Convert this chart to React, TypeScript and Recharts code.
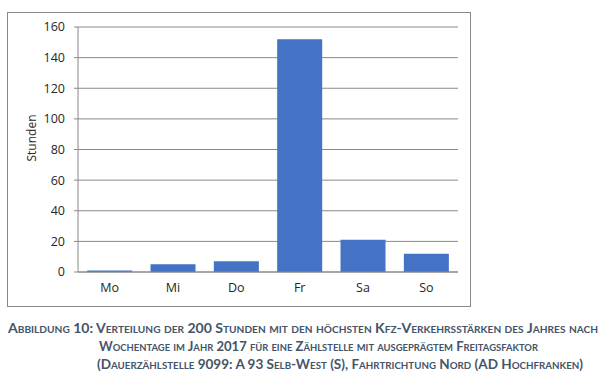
import React from 'react';
import { BarChart, Bar, XAxis, YAxis, CartesianGrid } from 'recharts';

const days = ['Mo', 'Mi', 'Do', 'Fr', 'Sa', 'So'];
const hours = [1, 5, 7, 152, 21, 12];
const yTicks = [0, 20, 40, 60, 80, 100, 120, 140, 160];
const yLabel = 'Stunden';
const captionLines = [
  'Abbildung 10: Verteilung der 200 Stunden mit den höchsten Kfz-Verkehrsstärken des Jahres nach',
  'Wochentage im Jahr 2017 für eine Zählstelle mit ausgeprägtem Freitagsfaktor',
  '(Dauerzählstelle 9099: A 93 Selb-West (S), Fahrtrichtung Nord (AD Hochfranken)',
];

const data = days.map((d, i) => ({ day: d, value: hours[i] }));

const FONT = '"Open Sans", sans-serif';
const CAPTION_FONT = 'Lato, "Open Sans", sans-serif';
const GRID = '#898989';
const TEXT = '#262626';

export default function App() {
  return (
    <div style={{ position: 'absolute', left: 0, top: 0, width: 612, height: 385, background: '#fff' }}>
      <div
        style={{
          position: 'absolute',
          left: 7,
          top: 12,
          width: 464,
          height: 295,
          border: `1px solid ${GRID}`,
          boxSizing: 'border-box',
        }}
      >
        <BarChart
          width={462}
          height={293}
          data={data}
          margin={{ top: 14, right: 12, bottom: 0, left: 10 }}
          barCategoryGap="14.5%"
        >
          <CartesianGrid vertical={false} stroke={GRID} strokeWidth={1} />
          <XAxis
            dataKey="day"
            height={34}
            axisLine={{ stroke: GRID }}
            tickLine={false}
            tickSize={0}
            tickMargin={11}
            tick={{ fill: TEXT, fontSize: 12.5, fontFamily: FONT }}
          />
          <YAxis
            width={60}
            domain={[0, 160]}
            ticks={yTicks}
            interval={0}
            axisLine={{ stroke: GRID }}
            tickLine={{ stroke: GRID }}
            tickSize={4}
            tickMargin={9}
            tick={{ fill: TEXT, fontSize: 12.5, fontFamily: FONT }}
          />
          <Bar dataKey="value" fill="#4472C4" isAnimationActive={false} />
        </BarChart>
      </div>
      <svg
        width={612}
        height={385}
        style={{ position: 'absolute', left: 0, top: 0, pointerEvents: 'none' }}
      >
        <text
          x={0}
          y={0}
          transform="translate(36, 138) rotate(-90)"
          textAnchor="middle"
          fontFamily={FONT}
          fontSize={12}
          fill={TEXT}
        >
          {yLabel}
        </text>
        <g fontFamily={CAPTION_FONT} fontWeight={700} fontSize={12.5} fill="#44546A" style={{ fontVariant: 'small-caps' }}>
          <text x={8} y={333} textLength={590} lengthAdjust="spacingAndGlyphs">{captionLines[0]}</text>
          <text x={99} y={351} textLength={439} lengthAdjust="spacingAndGlyphs">{captionLines[1]}</text>
          <text x={97} y={369} textLength={486} lengthAdjust="spacingAndGlyphs">{captionLines[2]}</text>
        </g>
      </svg>
    </div>
  );
}
